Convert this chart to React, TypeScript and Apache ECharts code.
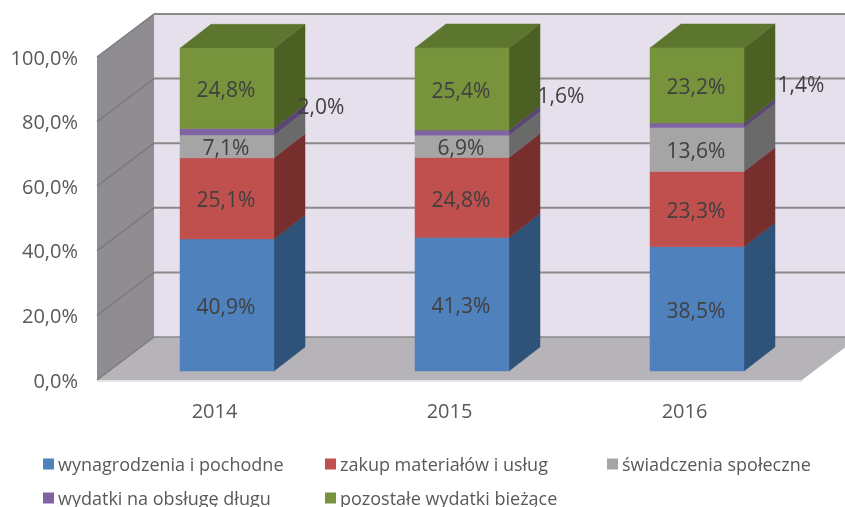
import React, { useEffect, useRef } from "react";
import * as echarts from "echarts";

const categories = ["2014", "2015", "2016"];
const seriesNames = [
  "wynagrodzenia i pochodne",
  "zakup materiałów i usług",
  "świadczenia społeczne",
  "wydatki na obsługę długu",
  "pozostałe wydatki bieżące",
];
const wynagrodzenia = [40.9, 41.3, 38.5];
const zakup = [25.1, 24.8, 23.3];
const swiadczenia = [7.1, 6.9, 13.6];
const dlug = [2.0, 1.6, 1.4];
const pozostale = [24.8, 25.4, 23.2];
const allValues = [wynagrodzenia, zakup, swiadczenia, dlug, pozostale];
const valueTicks = [0, 20, 40, 60, 80, 100];

const frontColors = ["#4F81BD", "#C0504D", "#A5A5A5", "#8064A2", "#77933C"];
const sideColors = ["#2F5279", "#772F2D", "#6A6A6A", "#594672", "#4C6024"];
const topColors = ["#3A6494", "#943D3B", "#808080", "#66507F", "#5C752F"];

const FONT = "'Open Sans', sans-serif";
const TEXT = "#595959";
const LABEL = "#404040";
const WALL_DX = 57;
const WALL_DY = -43;
const BAR_SHIFT_X = 12.5;
const BAR_SHIFT_Y = -9;
const BAR_DX = 31;
const BAR_DY = -24;
const BAR_RATIO = 0.4;
// Pixel nudges of the small outside labels (purple segment).
const smallLabelNudge = [
  [95, -27],
  [100, -39],
  [105, -42],
];

const fmtLabel = (v: number) => v.toFixed(1).replace(".", ",") + "%";

const poly = (points: number[][], fill: string, z2 = 0) => ({
  type: "polygon",
  z2,
  shape: { points },
  style: { fill, stroke: fill, lineWidth: 0.5 },
});

const wallsRender = (params: any, api: any) => {
  const cs = params.coordSys;
  const tick = api.value(0);
  const [, y] = api.coord([0, tick]);
  const x0 = cs.x;
  const x1 = cs.x + cs.width;
  const children: any[] = [];
  const line = "#8A8A8A";
  if (params.dataIndex === 0) {
    const top = cs.y;
    const bot = cs.y + cs.height;
    children.push(
      poly(
        [
          [x0 + WALL_DX, top + WALL_DY],
          [x1 + WALL_DX, top + WALL_DY],
          [x1 + WALL_DX, bot + WALL_DY],
          [x0 + WALL_DX, bot + WALL_DY],
        ],
        "#E6E0EC"
      ),
      {
        type: "polygon",
        shape: {
          points: [
            [x0, top],
            [x0 + WALL_DX, top + WALL_DY],
            [x0 + WALL_DX, bot + WALL_DY],
            [x0, bot],
          ],
        },
        style: { fill: "#908D92" },
      },
      {
        type: "polygon",
        shape: {
          points: [
            [x0, bot],
            [x1, bot],
            [x1 + WALL_DX, bot + WALL_DY],
            [x0 + WALL_DX, bot + WALL_DY],
          ],
        },
        style: { fill: "#B7B4B9" },
      },
      {
        type: "line",
        shape: { x1: x0, y1: bot + 1, x2: x1, y2: bot + 1 },
        style: { stroke: "#DCDCDC", lineWidth: 1.5 },
      }
    );
  }
  const width = tick === 0 ? 1.5 : 2;
  children.push(
    {
      type: "line",
      z2: 2,
      shape: { x1: x0 + WALL_DX, y1: y + WALL_DY, x2: x1 + WALL_DX, y2: y + WALL_DY },
      style: { stroke: line, lineWidth: width },
    },
    {
      type: "line",
      z2: 2,
      shape: { x1: x0, y1: y, x2: x0 + WALL_DX, y2: y + WALL_DY },
      style: { stroke: "#7C7A7E", lineWidth: 1.5 },
    }
  );
  return { type: "group", children };
};

const barRender = (s: number) => (params: any, api: any) => {
  const cat = api.value(0);
  const [cx, yLow] = api.coord([cat, api.value(1)]);
  const [, yHigh] = api.coord([cat, api.value(2)]);
  const w = api.size([1, 0])[0] * BAR_RATIO;
  const l = cx + BAR_SHIFT_X - w / 2;
  const r = l + w;
  const b = yLow + BAR_SHIFT_Y;
  const t = yHigh + BAR_SHIFT_Y;
  const children = [
    poly(
      [
        [r, b],
        [r + BAR_DX, b + BAR_DY],
        [r + BAR_DX, t + BAR_DY],
        [r, t],
      ],
      sideColors[s]
    ),
    poly(
      [
        [l, b],
        [r, b],
        [r, t],
        [l, t],
      ],
      frontColors[s],
      1
    ),
  ];
  if (s === allValues.length - 1) {
    children.push(
      poly(
        [
          [l, t],
          [r, t],
          [r + BAR_DX, t + BAR_DY],
          [l + BAR_DX, t + BAR_DY],
        ],
        topColors[s]
      )
    );
  }
  return { type: "group", children };
};

const labelRender = (params: any, api: any) => {
  const cat = api.value(0);
  const [cx, yMid] = api.coord([cat, api.value(1)]);
  const isSmall = api.value(3) === 1;
  const nudge = isSmall ? smallLabelNudge[cat] : [0, 0];
  return {
    type: "text",
    x: cx + BAR_SHIFT_X + nudge[0] - 1,
    y: yMid + BAR_SHIFT_Y + nudge[1] + 1,
    style: {
      text: fmtLabel(api.value(2)),
      fill: LABEL,
      font: `21px ${FONT}`,
      align: "center",
      verticalAlign: "middle",
    },
  };
};

const cumulated = (s: number, c: number) => {
  let low = 0;
  for (let i = 0; i < s; i++) low += allValues[i][c];
  return [low, low + allValues[s][c]];
};

const legendPlaces = [
  [43, 455],
  [325, 455],
  [607, 455],
  [43, 489],
  [325, 489],
];

export default function App() {
  const ref = useRef<HTMLDivElement>(null);
  useEffect(() => {
    document.body.style.margin = "0";
    const chart = echarts.init(ref.current!, null, { renderer: "svg" });
    const labelData: number[][] = [];
    allValues.forEach((vals, s) =>
      vals.forEach((v, c) => {
        const [lo, hi] = cumulated(s, c);
        labelData.push([c, (lo + hi) / 2, v, s === 3 ? 1 : 0]);
      })
    );
    chart.setOption({
      animation: false,
      textStyle: { fontFamily: FONT },
      legend: seriesNames.map((name, i) => ({
        data: [name],
        left: legendPlaces[i][0],
        top: legendPlaces[i][1],
        icon: "rect",
        itemWidth: 11,
        itemHeight: 11,
        itemGap: 0,
        padding: 0,
        selectedMode: false,
        textStyle: { fontFamily: FONT, fontSize: 18, color: TEXT, padding: [0, 0, 0, -1] },
      })),
      grid: { left: 97, top: 57, width: 705, height: 323 },
      xAxis: {
        type: "category",
        data: categories,
        axisLine: { show: false },
        axisTick: { show: false },
        splitLine: { show: false },
        axisLabel: { fontFamily: FONT, fontSize: 20, color: TEXT, margin: 20 },
      },
      yAxis: {
        type: "value",
        min: 0,
        max: 100,
        interval: 20,
        axisLine: { show: false },
        axisTick: { show: false },
        splitLine: { show: false },
        axisLabel: {
          fontFamily: FONT,
          fontSize: 20,
          color: TEXT,
          margin: 19,
          formatter: (v: number) => fmtLabel(v),
        },
      },
      series: [
        {
          type: "custom",
          name: "walls",
          z: 1,
          silent: true,
          renderItem: wallsRender,
          encode: { x: -1, y: 0 },
          data: valueTicks.map((t) => [t]),
        },
        ...seriesNames.map((name, s) => ({
          type: "custom",
          name,
          z: 2,
          silent: true,
          itemStyle: { color: frontColors[s] },
          renderItem: barRender(s),
          encode: { x: 0, y: [1, 2] },
          data: categories.map((_, c) => [c, ...cumulated(s, c)]),
        })),
        {
          type: "custom",
          name: "labels",
          z: 3,
          silent: true,
          renderItem: labelRender,
          encode: { x: 0, y: 1 },
          data: labelData,
        },
      ],
    });
    return () => chart.dispose();
  }, []);
  return <div ref={ref} style={{ position: "fixed", left: 0, top: 0, width: 845, height: 507 }} />;
}
